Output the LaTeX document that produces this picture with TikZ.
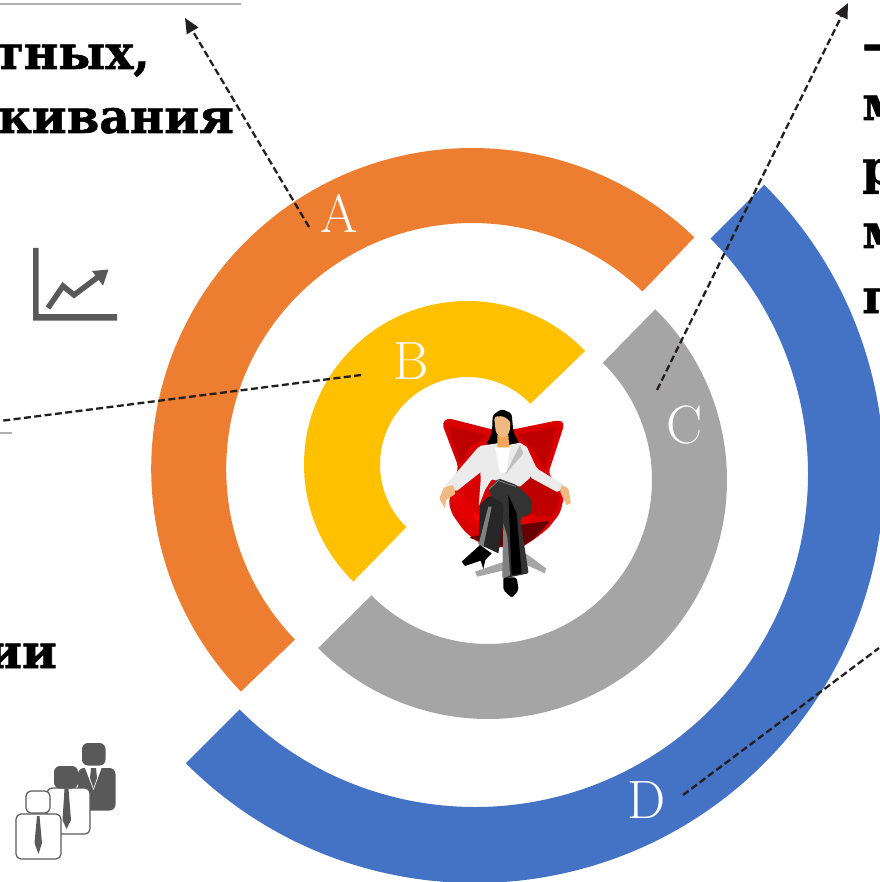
\documentclass[tikz,border=0pt]{standalone}
\usepackage{fontspec}
\usetikzlibrary{arrows.meta,calc}
\newfontfamily\slab{DejaVu Serif Bold}[FakeBold=1.2]
\definecolor{orangeR}{HTML}{ED7D31}
\definecolor{yellowR}{HTML}{FFC000}
\definecolor{grayR}{HTML}{A5A5A5}
\definecolor{blueR}{HTML}{4472C4}
\definecolor{iconG}{HTML}{595959}
\definecolor{lineK}{HTML}{231F20}
\definecolor{ruleG}{HTML}{B0B0B0}
\tikzset{
  letter/.style={text=white,font=\fontsize{54}{54}\selectfont,inner sep=0pt},
  heavy/.style={text=black,font=\slab\fontsize{47}{47}\selectfont,inner sep=0pt},
  leader/.style={draw=lineK,line width=2.3pt,dash pattern=on 7pt off 3.4pt},
  leaderarrow/.style={leader,-{Triangle[length=15pt,width=13pt,fill=lineK]}},
  rulel/.style={draw=ruleG,line width=1.2pt},
  person/.style={draw=iconG,line width=1.2pt,fill=white,rounded corners=5pt}
}
\newcommand\ringseg[7]{\fill[#1] ($(#2,#3)+(#6:#4)$) arc[start angle=#6,end angle=#7,radius=#4] -- ($(#2,#3)+(#7:#5)$) arc[start angle=#7,end angle=#6,radius=#5] -- cycle;}
\begin{document}
\begin{tikzpicture}[x=1pt,y=-1pt]
\useasboundingbox (0,0) rectangle (879,882);
% rings
\ringseg{blueR}{475}{474}{409}{333}{-45}{135}
\ringseg{orangeR}{472.2}{469}{321}{246}{-46.2}{-223.9}
\ringseg{yellowR}{467.5}{464.5}{163.5}{87.5}{-44}{-225.7}
\ringseg{grayR}{488}{480}{239}{164}{-45.6}{135.3}
% rules
\coordinate (r1a) at (0,4); \coordinate (r1b) at (241,4);
\coordinate (r2a) at (0,433); \coordinate (r2b) at (12,433);
\draw[rulel] (r1a) -- (r1b);
\draw[rulel] (r2a) -- (r2b);
% labels
\node[letter] (la) at (339,213) {A};
\node[letter] (lb) at (411.5,361) {B};
\node[letter] (lc) at (685,425) {C};
\node[letter] (ld) at (647,800) {D};
% text
\node[heavy,anchor=base east] (t1) at (150,69) {тных,};
\node[heavy,anchor=base east] (t2) at (234,133) {кивания};
\node[heavy,anchor=base east] (t3) at (57,668) {ии};
\node[heavy,anchor=base west] (t4) at (862,60) {–};
\node[heavy,anchor=base west] (t5) at (862,120) {м};
\node[heavy,anchor=base west] (t6) at (862,184) {р};
\node[heavy,anchor=base west] (t7) at (862,248) {м};
\node[heavy,anchor=base west] (t8) at (862,313) {п};
% connectors
\coordinate (ea) at (185,18); \coordinate (sa) at (309,227);
\coordinate (ec) at (848,3); \coordinate (sc) at (657,390);
\coordinate (eb) at (0,421); \coordinate (sb) at (361,375);
\coordinate (ed) at (879,648); \coordinate (sd) at (683,795);
\draw[leaderarrow] (sa) -- (ea);
\draw[leaderarrow] (sc) -- (ec);
\draw[leader] (sb) -- (eb);
\draw[leader] (sd) -- (ed);
% chart icon
\fill[iconG] (33,248) -- (38.5,248) -- (38.5,314) -- (117,314) -- (117,320.5) -- (33,320.5) -- cycle;
\draw[iconG,line width=5.5pt,line join=miter] (48,308) -- (63,286) -- (74,295) -- (98,277);
\fill[iconG] (92,271) -- (108.5,269.5) -- (103,285.5) -- cycle;
% people icon
\fill[iconG,rounded corners=6pt] (82,743) rectangle (105.5,765.5);
\fill[iconG,rounded corners=6pt] (78,768) rectangle (115.5,810.5);
\fill[white] (85,768) -- (93.5,790) -- (101.5,768) -- cycle;
\fill[iconG] (91,768) -- (96,768) -- (97,778) -- (93.5,788) -- (90,778) -- cycle;
\node[person,minimum width=43pt,minimum height=46pt,inner sep=0pt] (bm) at (68.5,811) {};
\fill[iconG,rounded corners=6pt] (54,766) rectangle (78,788.5);
\fill[iconG] (64.5,789) -- (68.5,789) -- (71,820) -- (66.5,829) -- (62.5,820) -- cycle;
\node[person,minimum width=45pt,minimum height=45pt,inner sep=0pt] (bf) at (38.5,836.5) {};
\node[person,minimum width=24pt,minimum height=22pt,inner sep=0pt] (hf) at (38,802) {};
\fill[iconG] (37,816) -- (39.5,816) -- (42,843) -- (38.5,854) -- (34.5,843) -- cycle;
% woman in chair (crop units: 3 = 1 px)
\begin{scope}[shift={(420pt,-390pt)},x=0.3333pt,y=-0.3333pt]
 \fill[gray!70] (165,545) -- (320,492) -- (378,535) -- (375,550) -- (320,525) -- (172,560) -- cycle;
 % chair
 \fill[red!85!black,rounded corners=4pt] (66,100) -- (82,84) -- (215,118) -- (282,118) -- (418,90) -- (434,100) -- (385,250) -- (435,310) -- (420,370) -- (385,415) -- (340,450) -- (300,475) -- (220,470) -- (170,455) -- (130,420) -- (95,370) -- (86,335) -- (115,230) -- cycle;
 \fill[red!75!black,rounded corners=2pt] (85,110) -- (205,135) -- (150,170) -- (120,225) -- cycle;
 \fill[red!75!black,rounded corners=2pt] (410,110) -- (290,135) -- (345,185) -- (375,240) -- cycle;
 \fill[red!75!black] (300,270) -- (380,250) -- (420,320) -- (400,380) -- (310,380) -- cycle;
 \fill[red!40!black,rounded corners=3pt] (145,442) -- (230,425) -- (300,405) -- (392,392) -- (340,448) -- (300,473) -- (220,468) -- cycle;
 \fill[red!90!black,rounded corners=2pt] (95,312) -- (125,305) -- (170,370) -- (200,405) -- (170,412) -- (115,375) -- cycle;
 \fill[red,rounded corners=2pt] (158,368) -- (190,372) -- (200,405) -- (165,390) -- cycle;
 \fill[red!90!black,rounded corners=2pt] (305,385) -- (345,372) -- (348,385) -- (305,400) -- cycle;
 % hair
 \fill[black,rounded corners=3pt] (197,165) -- (216,130) -- (218,75) -- (245,57) -- (275,70) -- (280,125) -- (300,165) -- cycle;
 % shoes
 \fill[black] (180,465) -- (215,490) -- (196,510) -- (190,537) -- (182,512) -- (135,528) -- (125,515) -- cycle;
 \fill[black,rounded corners=2pt] (250,562) -- (290,562) -- (296,600) -- (276,624) -- (250,600) -- cycle;
 % far leg
 \fill[black!85] (180,345) -- (205,320) -- (265,315) -- (235,490) -- (176,462) -- cycle;
 \fill[gray] (176,462) -- (205,350) -- (215,350) -- (190,470) -- cycle;
 % sleeves + jacket
 \fill[black!8,rounded corners=2pt] (178,168) -- (75,288) -- (108,305) -- (190,240) -- cycle;
 \fill[black!8,rounded corners=2pt] (320,170) -- (350,235) -- (432,285) -- (415,308) -- (330,262) -- cycle;
 \fill[black!8,rounded corners=1pt] (178,168) -- (232,160) -- (265,165) -- (300,158) -- (322,172) -- (332,262) -- (300,290) -- (215,268) -- (195,300) -- (176,350) -- (182,270) -- cycle;
 \fill[white] (225,172) -- (270,172) -- (260,245) -- (240,250) -- cycle;
 \fill[black!25] (300,165) -- (310,190) -- (255,255) -- cycle;
 % skin
 \fill[orange!70!brown!70!white] (232,135) -- (265,135) -- (268,172) -- (232,172) -- cycle;
 \fill[orange!55!brown!55!white,rounded corners=3pt] (222,80) -- (250,78) -- (272,95) -- (268,130) -- (250,146) -- (228,130) -- cycle;
 \fill[orange!55!brown!55!white,rounded corners=1pt] (72,292) -- (100,285) -- (106,312) -- (78,330) -- (75,356) -- (58,325) -- cycle;
 \fill[orange!55!brown!55!white,rounded corners=1pt] (425,285) -- (445,295) -- (453,340) -- (440,346) -- (420,305) -- cycle;
 % near leg
 \fill[black!80,rounded corners=2pt] (205,300) -- (235,265) -- (290,285) -- (335,328) -- (335,368) -- (300,385) -- (326,550) -- (248,566) -- (250,340) -- (215,320) -- cycle;
 \fill[black] (265,315) -- (290,370) -- (305,550) -- (275,556) -- cycle;
 \fill[gray] (248,566) -- (250,400) -- (262,440) -- (270,556) -- cycle;
 \draw[gray,line width=0.8pt] (207,298) -- (235,272) -- (288,290);
\end{scope}
\end{tikzpicture}
\end{document}
